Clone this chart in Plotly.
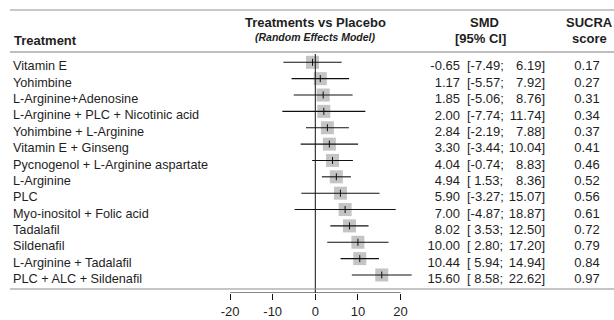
import plotly.graph_objects as go

# ---------------- data ----------------
treatments = [
    "Vitamin E", "Yohimbine", "L-Arginine+Adenosine",
    "L-Arginine + PLC + Nicotinic acid", "Yohimbine + L-Arginine",
    "Vitamin E + Ginseng", "Pycnogenol + L-Arginine aspartate", "L-Arginine",
    "PLC", "Myo-inositol + Folic acid", "Tadalafil", "Sildenafil",
    "L-Arginine + Tadalafil", "PLC + ALC + Sildenafil",
]
smd = [-0.65, 1.17, 1.85, 2.00, 2.84, 3.30, 4.04, 4.94, 5.90, 7.00, 8.02, 10.00, 10.44, 15.60]
lower = [-7.49, -5.57, -5.06, -7.74, -2.19, -3.44, -0.74, 1.53, -3.27, -4.87, 3.53, 2.80, 5.94, 8.58]
upper = [6.19, 7.92, 8.76, 11.74, 7.88, 10.04, 8.83, 8.36, 15.07, 18.87, 12.50, 17.20, 14.94, 22.62]
sucra = [0.17, 0.27, 0.31, 0.34, 0.37, 0.41, 0.46, 0.52, 0.56, 0.61, 0.72, 0.79, 0.84, 0.97]
x_ticks = [-20, -10, 0, 10, 20]

# ---------------- layout helpers (pixel geometry) ----------------
W, H = 614, 320
PX0, PXU = 315.3, 4.26          # px of x=0, px per unit
ROW0, ROWH = 62.3, 16.36        # px of first row, px per row
PLOT_BOTTOM = 293
TXT_OFF = 0.3                   # text sits slightly below the marks

def xv(px):
    return (px - PX0) / PXU

def yv(py):
    return (py - ROW0) / ROWH

rows = list(range(len(treatments)))
trow = [r + TXT_OFF for r in rows]

FONT = "Liberation Sans, Arial, Helvetica, sans-serif"
TXT = "#1e1e1e"
NAME_SIZE = 12.7
NUM_SIZE = 13

fig = go.Figure()

# squares
fig.add_trace(go.Scatter(
    x=smd, y=rows, mode="markers",
    marker=dict(symbol="square", size=13, color="#c4c4c4", line=dict(width=0)),
    hoverinfo="skip", showlegend=False))

# CI lines + centre tick
fig.add_trace(go.Scatter(
    x=smd, y=rows, mode="markers",
    marker=dict(symbol="line-ns", size=5, line=dict(width=1, color="#111")),
    error_x=dict(type="data", symmetric=False,
                 array=[u - m for u, m in zip(upper, smd)],
                 arrayminus=[m - l for m, l in zip(smd, lower)],
                 thickness=1.1, width=0, color="#111"),
    hoverinfo="skip", showlegend=False))

# treatment names
fig.add_trace(go.Scatter(
    x=[xv(13)] * len(rows), y=trow, mode="text", text=treatments,
    textposition="middle right", textfont=dict(family=FONT, size=NAME_SIZE, color=TXT),
    hoverinfo="skip", showlegend=False))

# estimate
fig.add_trace(go.Scatter(
    x=[xv(460)] * len(rows), y=trow, mode="text", text=[f"{v:.2f}" for v in smd],
    textposition="middle left", textfont=dict(family=FONT, size=NUM_SIZE, color=TXT),
    hoverinfo="skip", showlegend=False))

# lower bound (left aligned after the bracket)
fig.add_trace(go.Scatter(
    x=[xv(467)] * len(rows), y=trow, mode="text",
    text=[("[" + (f"{v:.2f}" if v < 0 else f" {v:.2f}") + ";") for v in lower],
    textposition="middle right", textfont=dict(family=FONT, size=NUM_SIZE, color=TXT),
    hoverinfo="skip", showlegend=False))

# upper bound
fig.add_trace(go.Scatter(
    x=[xv(545)] * len(rows), y=trow, mode="text", text=[f"{v:.2f}]" for v in upper],
    textposition="middle left", textfont=dict(family=FONT, size=NUM_SIZE, color=TXT),
    hoverinfo="skip", showlegend=False))

# SUCRA
fig.add_trace(go.Scatter(
    x=[xv(587)] * len(rows), y=trow, mode="text", text=[f"{v:.2f}" for v in sucra],
    textposition="middle center", textfont=dict(family=FONT, size=NUM_SIZE, color=TXT),
    hoverinfo="skip", showlegend=False))

shapes = [
    dict(type="line", xref="x", yref="y", x0=0, x1=0, y0=yv(54), y1=yv(PLOT_BOTTOM),
         line=dict(color="#111", width=1)),
    dict(type="line", xref="x", yref="y", x0=min(x_ticks), x1=max(x_ticks),
         y0=yv(PLOT_BOTTOM), y1=yv(PLOT_BOTTOM), line=dict(color="#111", width=1)),
    dict(type="line", xref="x", yref="y", x0=xv(10), x1=xv(W), y0=yv(10), y1=yv(10),
         line=dict(color="#b4b4b4", width=1.5)),
    dict(type="line", xref="x", yref="y", x0=xv(10), x1=xv(W), y0=yv(52), y1=yv(52),
         line=dict(color="#a8a8a8", width=1.5)),
    dict(type="line", xref="x", yref="y", x0=xv(10), x1=xv(W), y0=yv(289), y1=yv(289),
         line=dict(color="#8c8c8c", width=1.2)),
]

def hdr(text, px, py, anchor="center", size=13):
    return dict(text=text, x=xv(px), y=yv(py), xref="x", yref="y", showarrow=False,
                xanchor=anchor, yanchor="middle",
                font=dict(family=FONT, size=size, color=TXT))

annotations = [
    hdr("<b>Treatments vs Placebo</b>", 315.3, 22),
    hdr("<b><i>(Random Effects Model)</i></b>", 315.3, 37, size=10.5),
    hdr("<b>Treatment</b>", 12, 40, anchor="left"),
    hdr("<b>SMD</b>", 484, 22),
    hdr("<b>[95% CI]</b>", 480, 38),
    hdr("<b>SUCRA</b>", 589, 22),
    hdr("<b>score</b>", 589, 38),
]

fig.update_layout(
    width=W, height=H, autosize=False,
    margin=dict(l=0, r=0, t=0, b=H - PLOT_BOTTOM, pad=0, autoexpand=False),
    paper_bgcolor="white", plot_bgcolor="white",
    shapes=shapes, annotations=annotations,
    xaxis=dict(range=[xv(0), xv(W)], tickvals=x_ticks, ticktext=[str(t) for t in x_ticks],
               ticks="outside", ticklen=6, tickwidth=1, tickcolor="#111",
               showline=False, showgrid=False, zeroline=False, automargin=False,
               tickfont=dict(family=FONT, size=13, color=TXT), fixedrange=True),
    yaxis=dict(range=[yv(PLOT_BOTTOM), yv(0)], visible=False, showgrid=False,
               zeroline=False, fixedrange=True, automargin=False),
    font=dict(family=FONT),
)

fig.write_html("out.html", config={"displayModeBar": False, "responsive": False},
               post_script="document.body.style.margin='0px';")
